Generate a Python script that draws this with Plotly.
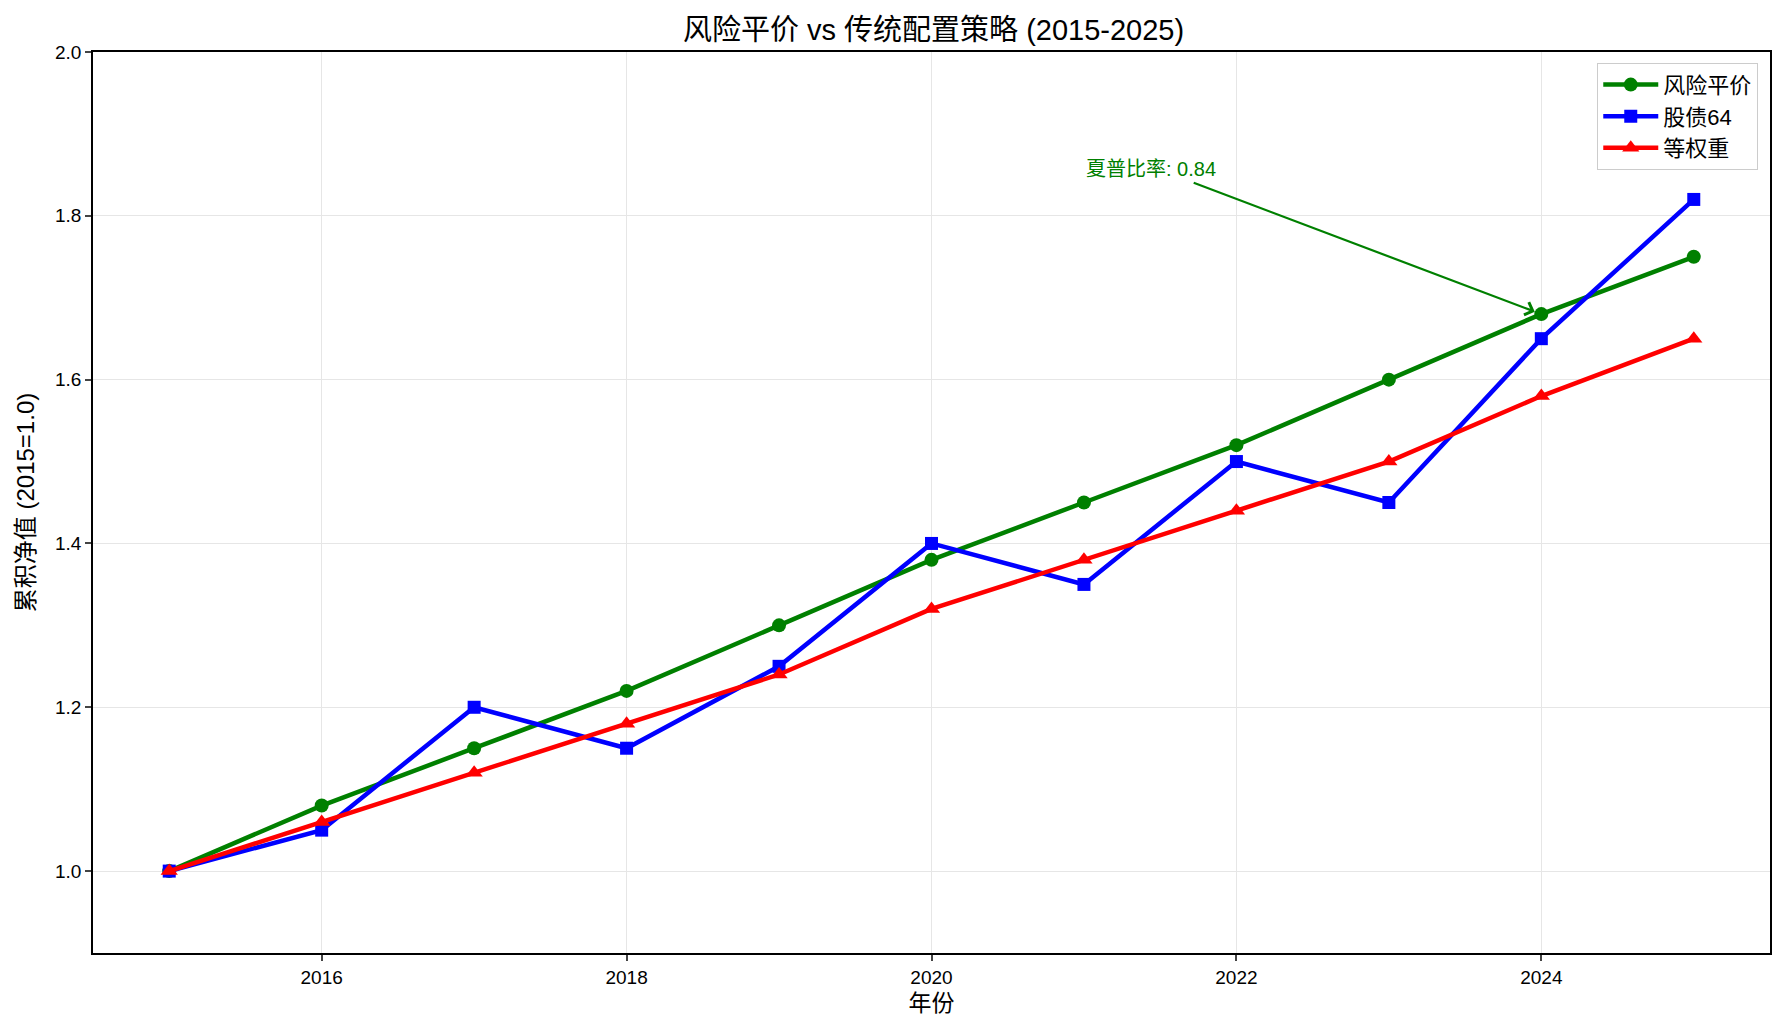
import plotly.graph_objects as go

years = [2015, 2016, 2017, 2018, 2019, 2020, 2021, 2022, 2023, 2024, 2025]
risk_parity = [1.00, 1.08, 1.15, 1.22, 1.30, 1.38, 1.45, 1.52, 1.60, 1.68, 1.75]
stock_bond_64 = [1.00, 1.05, 1.20, 1.15, 1.25, 1.40, 1.35, 1.50, 1.45, 1.65, 1.82]
equal_weight = [1.00, 1.06, 1.12, 1.18, 1.24, 1.32, 1.38, 1.44, 1.50, 1.58, 1.65]

x_ticks = [2016, 2018, 2020, 2022, 2024]
y_ticks = [1.0, 1.2, 1.4, 1.6, 1.8, 2.0]

FONT = "Liberation Sans, Arial, Noto Sans CJK SC, sans-serif"

fig = go.Figure()
series = [
    ("风险平价", risk_parity, "green", "circle", 14),
    ("股债64", stock_bond_64, "blue", "square", 13),
    ("等权重", equal_weight, "red", "triangle-up", 15),
]
for name, vals, color, sym, msize in series:
    fig.add_trace(go.Scatter(
        x=years, y=vals, name=name, mode="lines+markers",
        line=dict(color=color, width=4.5),
        marker=dict(color=color, symbol=sym, size=msize),
    ))

# annotation arrow
fig.add_annotation(
    x=2024, y=1.68, ax=2021.71, ay=1.841, xref="x", yref="y", axref="x", ayref="y",
    text="", showarrow=True, arrowhead=4, arrowsize=1.2, arrowwidth=2.2,
    arrowcolor="green", standoff=7,
)
fig.add_annotation(
    x=2021, y=1.841, xref="x", yref="y", text="夏普比率: 0.84", showarrow=False,
    xanchor="left", yanchor="bottom", font=dict(color="green", size=20, family=FONT),
)

fig.update_layout(
    width=1785, height=1034,
    margin=dict(l=93, r=15, t=52, b=81),
    paper_bgcolor="white", plot_bgcolor="white",
    font=dict(family=FONT, size=18, color="black"),
    title=dict(text="风险平价 vs 传统配置策略 (2015-2025)", x=0.523, xanchor="center",
               y=0.971, yanchor="middle", font=dict(size=29)),
    legend=dict(x=0.993, y=0.988, xanchor="right", yanchor="top",
                bgcolor="white", bordercolor="#cccccc", borderwidth=1,
                font=dict(size=22), itemwidth=55, tracegroupgap=2),
    showlegend=True,
)
fig.update_xaxes(
    range=[2014.5, 2025.5], tickvals=x_ticks, ticks="outside", ticklen=6, tickwidth=1.5,
    showline=True, linecolor="black", linewidth=1.5, mirror=True,
    showgrid=True, gridcolor="#e6e6e6", gridwidth=1, zeroline=False,
    title=dict(text="年份", font=dict(size=23), standoff=8),
    tickfont=dict(size=19),
)
fig.update_yaxes(
    range=[0.9, 2.0], tickvals=y_ticks, tickformat=".1f", ticks="outside", ticklen=6, tickwidth=1.5,
    showline=True, linecolor="black", linewidth=1.5, mirror=True,
    showgrid=True, gridcolor="#e6e6e6", gridwidth=1, zeroline=False,
    title=dict(text="累积净值 (2015=1.0)", font=dict(size=24), standoff=14),
    tickfont=dict(size=19),
)

fig.write_html("out.html")
